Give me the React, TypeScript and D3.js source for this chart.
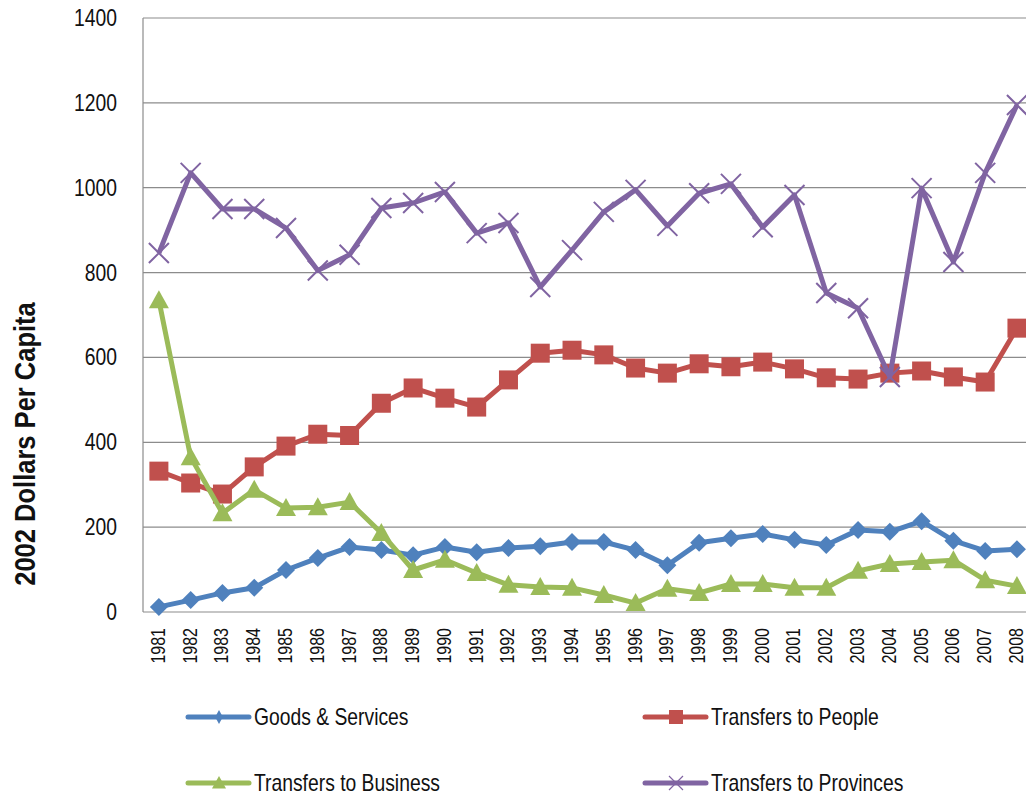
import React from "react";
import * as d3 from "d3";

const years = d3.range(1981, 2009).map(String);

const goods = [12, 28, 45, 57, 99, 127, 153, 146, 134, 153, 141, 151, 155, 165, 165, 146, 110, 163, 174, 184, 170, 158, 193, 189, 214, 168, 144, 148];
const people = [332, 304, 278, 342, 391, 419, 416, 492, 528, 504, 483, 547, 610, 617, 606, 575, 563, 585, 578, 589, 573, 552, 549, 563, 568, 554, 542, 669];
const business = [735, 365, 233, 288, 245, 247, 259, 186, 99, 123, 92, 64, 59, 57, 40, 21, 55, 45, 66, 66, 57, 57, 97, 113, 118, 122, 75, 61];
const provinces = [846, 1035, 950, 950, 905, 805, 842, 952, 964, 990, 893, 917, 766, 853, 943, 995, 910, 987, 1009, 907, 983, 752, 716, 554, 999, 825, 1035, 1195];

const yTicks = [0, 200, 400, 600, 800, 1000, 1200, 1400];

type Marker = "diamond" | "square" | "triangle" | "x";

const series: { name: string; values: number[]; color: string; marker: Marker }[] = [
  { name: "Goods & Services", values: goods, color: "#4F81BD", marker: "diamond" },
  { name: "Transfers to People", values: people, color: "#C0504D", marker: "square" },
  { name: "Transfers to Business", values: business, color: "#9BBB59", marker: "triangle" },
  { name: "Transfers to Provinces", values: provinces, color: "#8064A2", marker: "x" },
];

// no condensed face installed, so squeeze Liberation Sans horizontally
const font = "'Liberation Sans', Arial, sans-serif";

function markerShape(kind: Marker, cx: number, cy: number, s: number, color: string, key: string | number, legend = false) {
  const h = s / 2;
  if (kind === "diamond") {
    const w = legend ? h * 0.55 : h;
    return <path key={key} d={`M${cx},${cy - h}L${cx + w},${cy}L${cx},${cy + h}L${cx - w},${cy}Z`} fill={color} />;
  }
  if (kind === "square") {
    return <rect key={key} x={cx - h} y={cy - h} width={s} height={s} fill={color} />;
  }
  if (kind === "triangle") {
    return <path key={key} d={`M${cx},${cy - h}L${cx + h},${cy + h * 0.8}L${cx - h},${cy + h * 0.8}Z`} fill={color} />;
  }
  return (
    <path key={key} d={`M${cx - h},${cy - h}L${cx + h},${cy + h}M${cx - h},${cy + h}L${cx + h},${cy - h}`}
      stroke={color} strokeWidth={legend ? 1.2 : 2} fill="none" />
  );
}

const markerSize: Record<Marker, number> = { diamond: 18, square: 19, triangle: 20, x: 20 };

export default function App() {
  const width = 1026;
  const height = 796;
  const left = 143;
  const top = 18;
  const bottom = 612;
  const step = 31.78;

  const x = d3.scaleBand<string>().domain(years).range([left, left + step * years.length]);
  const y = d3.scaleLinear().domain([0, 1400]).range([bottom, top]);
  const cx = (yr: string) => (x(yr) ?? 0) + x.bandwidth() / 2;

  const line = d3.line<number>().x((_, i) => cx(years[i])).y((d) => y(d));

  const legendPos = [
    { lx: 188, ly: 717 },
    { lx: 645, ly: 717 },
    { lx: 188, ly: 783 },
    { lx: 645, ly: 783 },
  ];

  return (
    <div style={{ position: "fixed", left: 0, top: 0 }}>
      <svg width={width} height={height} style={{ display: "block", background: "#fff", fontFamily: font }}>
        {/* grid */}
        {yTicks.map((t) => (
          <g key={t}>
            <line x1={left} x2={width + 20} y1={y(t)} y2={y(t)} stroke="#8c8c8c" strokeWidth={1.2} />
            <text transform={`translate(117,${y(t)}) scale(0.84,1)`} dy="0.35em" textAnchor="end"
              fontSize={23} fill="#111">{t}</text>
          </g>
        ))}
        <line x1={left} x2={left} y1={top} y2={bottom} stroke="#8c8c8c" strokeWidth={1.2} />

        {/* x ticks */}
        {years.map((yr) => (
          <text key={yr} transform={`translate(${cx(yr) + 6},${628}) rotate(-90) scale(0.8,1)`} textAnchor="end"
            fontSize={20} fill="#111">{yr}</text>
        ))}

        {/* y title */}
        <text transform={`translate(35,${444}) rotate(-90) scale(0.88,1)`} textAnchor="middle" fontSize={29}
          fontWeight="bold" fill="#111">2002 Dollars Per Capita</text>

        {/* series */}
        {series.map((s) => (
          <g key={s.name}>
            <path d={line(s.values) ?? ""} fill="none" stroke={s.color} strokeWidth={5} strokeLinejoin="round" />
            {s.values.map((v, i) => markerShape(s.marker, cx(years[i]), y(v), markerSize[s.marker], s.color, i))}
          </g>
        ))}

        {/* legend */}
        {series.map((s, i) => {
          const { lx, ly } = legendPos[i];
          return (
            <g key={s.name}>
              <line x1={lx} x2={lx + 61} y1={ly} y2={ly} stroke={s.color} strokeWidth={5} strokeLinecap="round" />
              {markerShape(s.marker, lx + 31, ly, 14, s.color, "m", true)}
              <text transform={`translate(${lx + 66},${ly}) scale(0.84,1)`} dy="0.35em" fontSize={23} fill="#111">
                {s.name}
              </text>
            </g>
          );
        })}
      </svg>
    </div>
  );
}
